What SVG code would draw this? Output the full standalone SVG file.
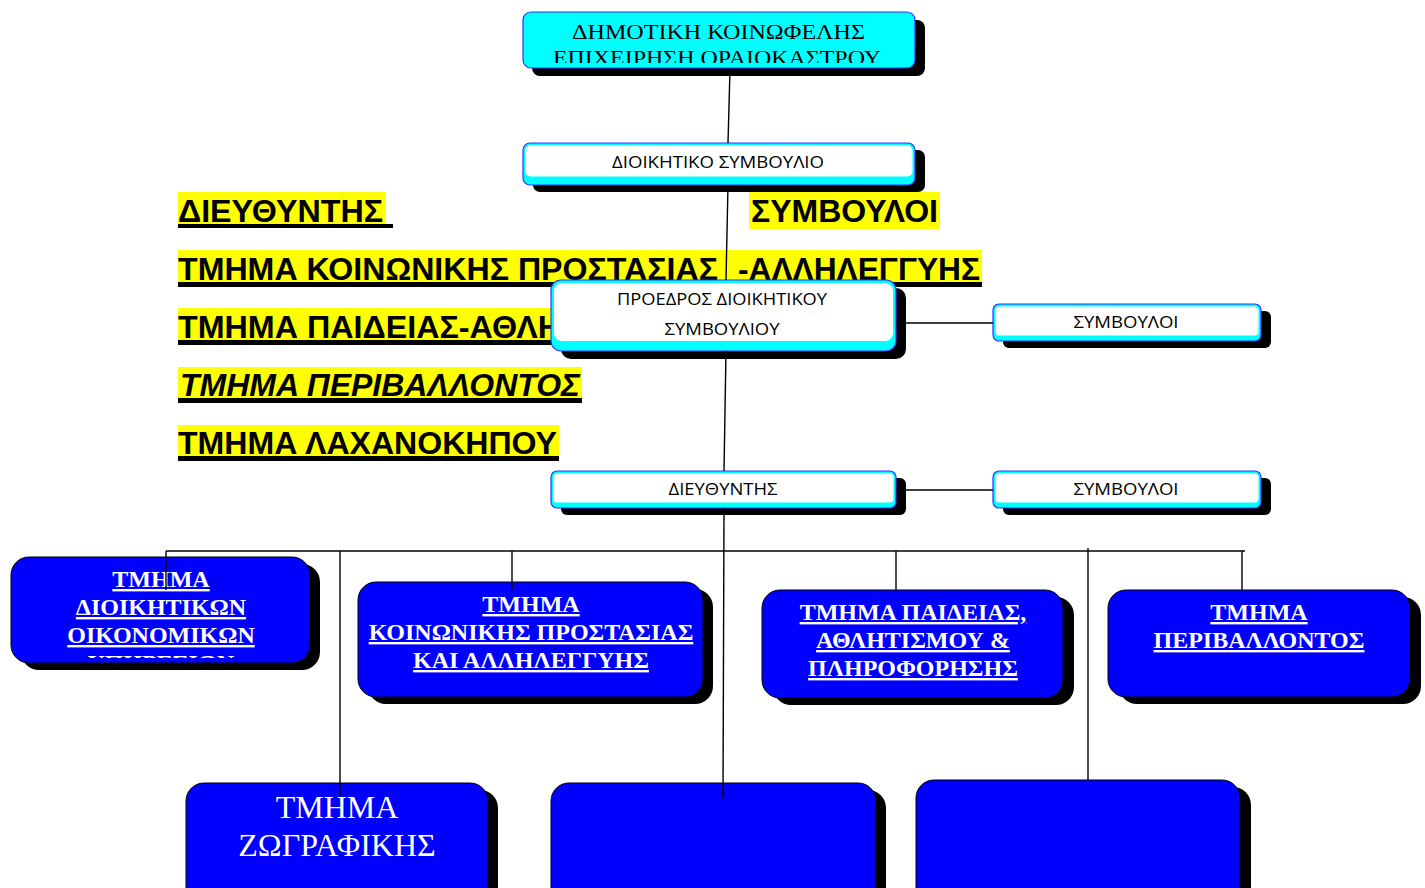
<svg xmlns="http://www.w3.org/2000/svg" width="1425" height="888" viewBox="0 0 1425 888">
<style>
.sh{fill:#000}
.wb{fill:#00FFFF;stroke:#3333FF;stroke-width:1.2}
.wi{fill:#FFFFFF}
.bb{fill:#0000FF;stroke:#000;stroke-width:1}
.conn line{stroke:#000;stroke-width:1.4}
.hl{fill:#FFFF00}
.ul{fill:#000}
.yt{font-family:"Liberation Sans",Arial,sans-serif;font-weight:bold;font-size:32px;fill:#000}
.st{font-family:"Open Sans","Liberation Sans",sans-serif;font-size:16px;fill:#000;text-anchor:middle}
.tt{font-family:"Liberation Serif","Times New Roman",serif;font-size:22px;fill:#000;text-anchor:middle}
.bt{font-family:"Liberation Serif","Times New Roman",serif;font-weight:bold;font-size:24px;fill:#fff;text-anchor:middle;text-decoration:underline}
.bt2{font-family:"Liberation Serif","Times New Roman",serif;font-size:32px;fill:#fff;text-anchor:middle}
</style>
<defs>
<clipPath id="clipTop"><rect x="523" y="12" width="392" height="51"/></clipPath>
<clipPath id="clipB1"><rect x="11" y="557" width="299" height="101"/></clipPath>
</defs>
<rect width="1425" height="888" fill="#fff"/>

<g id="yellow-list">
<rect class="hl" x="178" y="192" width="207" height="36"/>
<rect class="ul" x="178" y="224" width="215" height="4"/>
<text class="yt" x="178" y="222" textLength="205" lengthAdjust="spacingAndGlyphs">ΔΙΕΥΘΥΝΤΗΣ</text>
<rect class="hl" x="749" y="192" width="191" height="37"/>
<text class="yt" x="751" y="222" textLength="187" lengthAdjust="spacingAndGlyphs">ΣΥΜΒΟΥΛΟΙ</text>
<rect class="hl" x="178" y="250" width="804" height="37"/>
<rect class="ul" x="178" y="282" width="804" height="5"/>
<text class="yt" x="178" y="280" textLength="540" lengthAdjust="spacingAndGlyphs">ΤΜΗΜΑ ΚΟΙΝΩΝΙΚΗΣ ΠΡΟΣΤΑΣΙΑΣ</text>
<text class="yt" x="738" y="280" textLength="242" lengthAdjust="spacingAndGlyphs">-ΑΛΛΗΛΕΓΓΥΗΣ</text>
<rect class="hl" x="178" y="308" width="380" height="37"/>
<rect class="ul" x="178" y="340" width="380" height="5"/>
<text class="yt" x="178" y="338" textLength="383" lengthAdjust="spacingAndGlyphs">ΤΜΗΜΑ ΠΑΙΔΕΙΑΣ-ΑΘΛΗ</text>
<rect class="hl" x="178" y="367" width="404" height="36"/>
<rect class="ul" x="178" y="398" width="404" height="5"/>
<text class="yt" x="180" y="396" font-style="italic" textLength="400" lengthAdjust="spacingAndGlyphs">ΤΜΗΜΑ ΠΕΡΙΒΑΛΛΟΝΤΟΣ</text>
<rect class="hl" x="178" y="425" width="381" height="36"/>
<rect class="ul" x="178" y="456" width="381" height="5"/>
<text class="yt" x="178" y="454" textLength="379" lengthAdjust="spacingAndGlyphs">ΤΜΗΜΑ ΛΑΧΑΝΟΚΗΠΟΥ</text>
</g>

<g id="node-dimotiki">
<rect class="sh" x="532" y="20" width="393" height="56" rx="8"/>
<rect class="wb" x="523" y="12" width="392" height="56" rx="8"/>
<g clip-path="url(#clipTop)">
<text class="tt" x="718.5" y="39" textLength="293" lengthAdjust="spacingAndGlyphs">ΔΗΜΟΤΙΚΗ ΚΟΙΝΩΦΕΛΗΣ</text>
<text class="tt" x="717" y="65" textLength="328" lengthAdjust="spacingAndGlyphs">ΕΠΙΧΕΙΡΗΣΗ ΟΡΑΙΟΚΑΣΤΡΟΥ</text>
</g>
</g>

<g id="node-ds">
<rect class="sh" x="533" y="150" width="392" height="42" rx="7"/>
<rect class="wb" x="523" y="143" width="392" height="42" rx="7"/>
<rect class="wi" x="525.5" y="145.5" width="387" height="31" rx="5"/>
<text class="st" x="718" y="168" textLength="212" lengthAdjust="spacingAndGlyphs">ΔΙΟΙΚΗΤΙΚΟ ΣΥΜΒΟΥΛΙΟ</text>
</g>

<g id="node-proedros">
<rect class="sh" x="561" y="288" width="345" height="71" rx="10"/>
<rect class="wb" x="551" y="280" width="345" height="71" rx="10"/>
<rect class="wi" x="554" y="283" width="339" height="58" rx="8"/>
<text class="st" x="722" y="305" textLength="210" lengthAdjust="spacingAndGlyphs">ΠΡΟΕΔΡΟΣ ΔΙΟΙΚΗΤΙΚΟΥ</text>
<text class="st" x="722" y="335" textLength="115" lengthAdjust="spacingAndGlyphs">ΣΥΜΒΟΥΛΙΟΥ</text>
</g>

<g id="node-symvouloi1">
<rect class="sh" x="1003" y="311" width="268" height="37" rx="6"/>
<rect class="wb" x="993" y="304" width="268" height="37" rx="6"/>
<rect class="wi" x="995.5" y="306.5" width="263" height="29" rx="4"/>
<text class="st" x="1126" y="328" textLength="105" lengthAdjust="spacingAndGlyphs">ΣΥΜΒΟΥΛΟΙ</text>
</g>

<g id="node-dieythyntis">
<rect class="sh" x="561" y="478" width="345" height="37" rx="6"/>
<rect class="wb" x="551" y="471" width="345" height="37" rx="6"/>
<rect class="wi" x="553.5" y="473.5" width="340" height="29" rx="4"/>
<text class="st" x="723" y="495" textLength="109" lengthAdjust="spacingAndGlyphs">ΔΙΕΥΘΥΝΤΗΣ</text>
</g>

<g id="node-symvouloi2">
<rect class="sh" x="1003" y="478" width="268" height="37" rx="6"/>
<rect class="wb" x="993" y="471" width="268" height="37" rx="6"/>
<rect class="wi" x="995.5" y="473.5" width="263" height="29" rx="4"/>
<text class="st" x="1126" y="495" textLength="105" lengthAdjust="spacingAndGlyphs">ΣΥΜΒΟΥΛΟΙ</text>
</g>

<g id="node-dioikitikon">
<rect class="sh" x="21" y="564" width="299" height="106" rx="18"/>
<rect class="bb" x="11" y="557" width="299" height="106" rx="18"/>
<g clip-path="url(#clipB1)">
<text class="bt" x="161" y="587">ΤΜΗΜΑ</text>
<text class="bt" x="161" y="615">ΔΙΟΙΚΗΤΙΚΩΝ</text>
<text class="bt" x="161" y="643">ΟΙΚΟΝΟΜΙΚΩΝ</text>
<text class="bt" x="161" y="671">ΥΠΗΡΕΣΙΩΝ</text>
</g>
</g>

<g id="node-koinonikis">
<rect class="sh" x="368" y="589" width="345" height="115" rx="18"/>
<rect class="bb" x="358" y="582" width="345" height="115" rx="18"/>
<text class="bt" x="531" y="612">ΤΜΗΜΑ</text>
<text class="bt" x="531" y="640">ΚΟΙΝΩΝΙΚΗΣ ΠΡΟΣΤΑΣΙΑΣ</text>
<text class="bt" x="531" y="668">ΚΑΙ ΑΛΛΗΛΕΓΓΥΗΣ</text>
</g>

<g id="node-paideias">
<rect class="sh" x="773" y="597" width="301" height="108" rx="18"/>
<rect class="bb" x="762" y="590" width="301" height="108" rx="18"/>
<text class="bt" x="913" y="620">ΤΜΗΜΑ ΠΑΙΔΕΙΑΣ,</text>
<text class="bt" x="913" y="648">ΑΘΛΗΤΙΣΜΟΥ &amp;</text>
<text class="bt" x="913" y="676">ΠΛΗΡΟΦΟΡΗΣΗΣ</text>
</g>

<g id="node-perivallontos">
<rect class="sh" x="1119" y="597" width="302" height="107" rx="18"/>
<rect class="bb" x="1108" y="590" width="302" height="107" rx="18"/>
<text class="bt" x="1259" y="620">ΤΜΗΜΑ</text>
<text class="bt" x="1259" y="648">ΠΕΡΙΒΑΛΛΟΝΤΟΣ</text>
</g>

<g id="node-zografikis">
<rect class="sh" x="196" y="790" width="302" height="130" rx="18"/>
<rect class="bb" x="186" y="783" width="302" height="130" rx="18"/>
<text class="bt2" x="337" y="818">ΤΜΗΜΑ</text>
<text class="bt2" x="337" y="856">ΖΩΓΡΑΦΙΚΗΣ</text>
</g>

<g id="node-empty1">
<rect class="sh" x="561" y="790" width="325" height="130" rx="18"/>
<rect class="bb" x="551" y="783" width="325" height="130" rx="18"/>
</g>

<g id="node-empty2">
<rect class="sh" x="927" y="787" width="324" height="130" rx="18"/>
<rect class="bb" x="916" y="780" width="324" height="130" rx="18"/>
</g>

<g id="connectors" class="conn">
<line x1="730" y1="69" x2="728" y2="143"/>
<line x1="728" y1="185" x2="726" y2="280"/>
<line x1="896" y1="323" x2="993" y2="323"/>
<line x1="726" y1="351" x2="724" y2="471"/>
<line x1="896" y1="490" x2="993" y2="490"/>
<line x1="724" y1="508" x2="723" y2="797"/>
<line x1="166" y1="551" x2="1245" y2="551"/>
<line x1="166" y1="551" x2="166" y2="590"/>
<line x1="340" y1="551" x2="340" y2="797"/>
<line x1="512" y1="551" x2="512" y2="590"/>
<line x1="896" y1="551" x2="896" y2="590"/>
<line x1="1088" y1="548" x2="1088" y2="780"/>
<line x1="1242" y1="551" x2="1242" y2="590"/>
</g>
</svg>
